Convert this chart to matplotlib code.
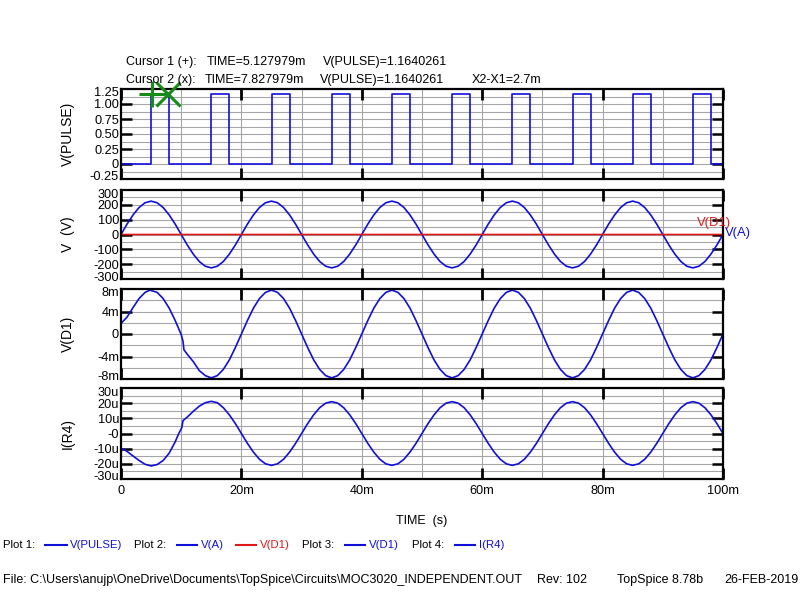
import matplotlib
matplotlib.use("Agg")
import matplotlib.pyplot as plt
from matplotlib.ticker import MultipleLocator
from matplotlib.lines import Line2D

plt.rcParams['font.family'] = ['Liberation Sans', 'DejaVu Sans']

BLUE = '#1010d8'
RED = '#e01818'
GREEN = '#168c16'
GRID = '#a6a6a6'

# ---------------- data (time in ms) ----------------
pulse_start_ms = [5, 15, 25, 35, 45, 55, 65, 75, 85, 95]
pulse_end_ms = [8, 18, 28, 38, 48, 58, 68, 78, 88, 98]
pulse_high = 1.164
pulse_low = 0.0

t_va = list(range(0, 101))
va = [0, 70, 132, 182, 214, 225, 214, 182, 132, 70, 0, -70, -132, -182, -214, -225, -214, -182, -132, -70,
      0, 70, 132, 182, 214, 225, 214, 182, 132, 70, 0, -70, -132, -182, -214, -225, -214, -182, -132, -70,
      0, 70, 132, 182, 214, 225, 214, 182, 132, 70, 0, -70, -132, -182, -214, -225, -214, -182, -132, -70,
      0, 70, 132, 182, 214, 225, 214, 182, 132, 70, 0, -70, -132, -182, -214, -225, -214, -182, -132, -70,
      0, 70, 132, 182, 214, 225, 214, 182, 132, 70, 0, -70, -132, -182, -214, -225, -214, -182, -132, -70,
      0]

# V(D1) in mV
t_vd1 = [0, 0.02, 1, 2, 3, 4, 4.8, 6, 7, 8, 9, 10, 10.3, 10.45, 11, 12, 13, 14] + list(range(15, 101))
vd1 = [0, 1.9, 3.0, 4.7, 6.3, 7.4, 7.8, 7.4, 6.3, 4.6, 2.4, -0.1, -1.3, -2.8, -3.6, -4.9, -6.5, -7.4,
       -7.8, -7.4, -6.3, -4.6, -2.4,
       0, 2.4, 4.6, 6.3, 7.4, 7.8, 7.4, 6.3, 4.6, 2.4, 0, -2.4, -4.6, -6.3, -7.4, -7.8, -7.4, -6.3, -4.6, -2.4,
       0, 2.4, 4.6, 6.3, 7.4, 7.8, 7.4, 6.3, 4.6, 2.4, 0, -2.4, -4.6, -6.3, -7.4, -7.8, -7.4, -6.3, -4.6, -2.4,
       0, 2.4, 4.6, 6.3, 7.4, 7.8, 7.4, 6.3, 4.6, 2.4, 0, -2.4, -4.6, -6.3, -7.4, -7.8, -7.4, -6.3, -4.6, -2.4,
       0, 2.4, 4.6, 6.3, 7.4, 7.8, 7.4, 6.3, 4.6, 2.4, 0, -2.4, -4.6, -6.3, -7.4, -7.8, -7.4, -6.3, -4.6, -2.4,
       0]

# I(R4) in uA
t_ir4 = [0, 0.01, 0.05, 0.5, 1, 2, 3, 4, 5, 6, 7, 8, 9, 9.6, 10.1, 10.3, 11, 12, 13, 14, 15, 16] + list(range(17, 101))
ir4 = [0, -20, -10, -10.5, -11.8, -14.8, -17.8, -20.3, -21.4, -20.5, -17.8, -13.0, -5.5, 0, 3.9, 8.5,
       10.8, 14.6, 18.0, 20.3, 21.2, 20.3,
       17, 12.3, 6.5,
       0, -6.5, -12.3, -17, -20, -21, -20, -17, -12.3, -6.5, 0, 6.5, 12.3, 17, 20, 21, 20, 17, 12.3, 6.5,
       0, -6.5, -12.3, -17, -20, -21, -20, -17, -12.3, -6.5, 0, 6.5, 12.3, 17, 20, 21, 20, 17, 12.3, 6.5,
       0, -6.5, -12.3, -17, -20, -21, -20, -17, -12.3, -6.5, 0, 6.5, 12.3, 17, 20, 21, 20, 17, 12.3, 6.5,
       0, -6.5, -12.3, -17, -20, -21, -20, -17, -12.3, -6.5, 0, 6.5, 12.3, 17, 20, 21, 20, 17, 12.3, 6.5,
       0]

cursor1_t = 5.127979
cursor2_t = 7.827979
cursor_v = 1.1640261

x_ticks = [0, 20, 40, 60, 80, 100]
x_ticklabels = ['0', '20m', '40m', '60m', '80m', '100m']
x_grid_step = 10

panel_ylim = [(-0.25, 1.25), (-300, 300), (-8, 8), (-30, 30)]
panel_yticks = [[1.25, 1.0, 0.75, 0.5, 0.25, 0, -0.25],
                [300, 200, 100, 0, -100, -200, -300],
                [8, 4, 0, -4, -8],
                [30, 20, 10, 0, -10, -20, -30]]
panel_yticklabels = [['1.25', '1.00', '0.75', '0.50', '0.25', '0', '-0.25'],
                     ['300', '200', '100', '0', '-100', '-200', '-300'],
                     ['8m', '4m', '0', '-4m', '-8m'],
                     ['30u', '20u', '10u', '-0', '-10u', '-20u', '-30u']]
panel_grid_step = [0.125, 50, 2, 5]
panel_ylabels = ['V(PULSE)', 'V  (V)', 'V(D1)', 'I(R4)']

# ---------------- figure ----------------
W, H = 800, 600
fig = plt.figure(figsize=(8, 6), dpi=100)


def rect(top, bottom):
    return [121 / W, 1 - bottom / H, 602 / W, (bottom - top) / H]


panel_px = [(89, 179), (190, 279), (289, 379), (388, 479)]
axes = [fig.add_axes(rect(t, b)) for t, b in panel_px]

for i, ax in enumerate(axes):
    lo, hi = panel_ylim[i]
    ax.set_xlim(0, 100)
    ax.set_ylim(lo, hi)
    ax.set_axisbelow(True)
    for s in ax.spines.values():
        s.set_linewidth(1.6)
        s.set_color('black')
    # grid lines drawn beneath the axis artists
    n = 1
    while x_grid_step * n < 100:
        ax.axvline(x_grid_step * n, color=GRID, lw=0.8, zorder=0.3)
        n += 1
    step = panel_grid_step[i]
    n = 1
    while lo + step * n < hi - 1e-9:
        ax.axhline(lo + step * n, color=GRID, lw=0.8, zorder=0.3)
        n += 1
    # x ticks
    ax.set_xticks(x_ticks)
    ax.tick_params(axis='x', which='major', direction='in', top=True, bottom=True,
                   length=8, width=2.0, labelsize=9.2, pad=4.5, color='black')
    # y ticks: extremes nudged 3px inward (label placement)
    px_h = panel_px[i][1] - panel_px[i][0]
    d = (hi - lo) * 3.0 / px_h
    pos = []
    for v in panel_yticks[i]:
        if v == hi:
            pos.append(v - d)
        elif v == lo:
            pos.append(v + d)
        else:
            pos.append(v)
    ax.set_yticks(pos)
    ax.set_yticklabels(panel_yticklabels[i])
    ax.tick_params(axis='y', which='major', direction='in', left=True, right=True,
                   length=8, width=1.8, labelsize=9.2, pad=1.5, color='black')
    ticks = ax.yaxis.get_major_ticks()
    for k in (0, len(ticks) - 1):
        ticks[k].tick1line.set_visible(False)
        ticks[k].tick2line.set_visible(False)
    ax.set_ylabel(panel_ylabels[i], fontsize=10)
    ax.yaxis.set_label_coords(-0.0764, 0.5)
    if i < 3:
        ax.tick_params(axis='x', labelbottom=False)
    else:
        ax.set_xticklabels(x_ticklabels)

# Panel 1: pulse
pt, pv = [0], [pulse_low]
for s, e in zip(pulse_start_ms, pulse_end_ms):
    pt += [s, s, e, e]
    pv += [pulse_low, pulse_high, pulse_high, pulse_low]
pt.append(100)
pv.append(pulse_low)
axes[0].plot(pt, pv, color=BLUE, lw=1.2)
axes[0].plot([cursor1_t], [cursor_v], marker='+', ms=19, mew=2.2, color=GREEN, clip_on=False, zorder=5)
axes[0].plot([cursor2_t], [cursor_v], marker='x', ms=17, mew=2.2, color=GREEN, clip_on=False, zorder=5)

# Panel 2
axes[1].plot(t_va, va, color=BLUE, lw=1.2)
axes[1].plot(t_vd1, [v * 1e-3 for v in vd1], color=RED, lw=1.2)

# Panel 3
axes[2].plot(t_vd1, vd1, color=BLUE, lw=1.2)

# Panel 4
axes[3].plot(t_ir4, ir4, color=BLUE, lw=1.2)


def fx(px):
    return px / W


def fy(py):
    return 1 - py / H


# cursor readouts
fs_c = 9.0
fig.text(fx(126), fy(62), 'Cursor 1 (+):', fontsize=fs_c, va='center')
fig.text(fx(207), fy(62), 'TIME=%.6fm' % cursor1_t, fontsize=fs_c, va='center')
fig.text(fx(322.5), fy(62), 'V(PULSE)=%.7f' % cursor_v, fontsize=fs_c, va='center')
fig.text(fx(126), fy(80), 'Cursor 2 (x):', fontsize=fs_c, va='center')
fig.text(fx(205), fy(80), 'TIME=%.6fm' % cursor2_t, fontsize=fs_c, va='center')
fig.text(fx(319.5), fy(80), 'V(PULSE)=%.7f' % cursor_v, fontsize=fs_c, va='center')
fig.text(fx(471.5), fy(80), 'X2-X1=%.1fm' % (cursor2_t - cursor1_t), fontsize=fs_c, va='center')

# trace labels on panel 2
fig.text(fx(697), fy(223), 'V(D1)', color=RED, fontsize=9.4, va='center')
fig.text(fx(725), fy(233), 'V(A)', color=BLUE, fontsize=9.4, va='center')

# x label
fig.text(fx(422), fy(521), 'TIME  (s)', fontsize=9.0, ha='center', va='center')

# legend row
fs_l = 8.2
ly = fy(545)
items = [('text', 3, 'Plot 1:', 'black'), ('line', 45, 67, BLUE), ('text', 70, 'V(PULSE)', BLUE),
         ('text', 134, 'Plot 2:', 'black'), ('line', 177, 197, BLUE), ('text', 201, 'V(A)', BLUE),
         ('line', 236, 256, RED), ('text', 260, 'V(D1)', RED),
         ('text', 302, 'Plot 3:', 'black'), ('line', 345, 365, BLUE), ('text', 369, 'V(D1)', BLUE),
         ('text', 412, 'Plot 4:', 'black'), ('line', 455, 475, BLUE), ('text', 479, 'I(R4)', BLUE)]
for it in items:
    if it[0] == 'text':
        fig.text(fx(it[1]), ly, it[2], color=it[3], fontsize=fs_l, va='center')
    else:
        fig.add_artist(Line2D([fx(it[1]), fx(it[2])], [ly, ly], color=it[3], lw=1.5,
                              transform=fig.transFigure))

# footer
fs_f = 9.0
fy_f = fy(580)
fig.text(fx(3), fy_f, r'File: C:\Users\anujp\OneDrive\Documents\TopSpice\Circuits\MOC3020_INDEPENDENT.OUT',
         fontsize=fs_f, va='center')
fig.text(fx(537), fy_f, 'Rev: 102', fontsize=fs_f, va='center')
fig.text(fx(617), fy_f, 'TopSpice 8.78b', fontsize=fs_f, va='center')
fig.text(fx(724), fy_f, '26-FEB-2019', fontsize=fs_f, va='center')

fig.savefig('out.png', dpi=100, facecolor='white')
